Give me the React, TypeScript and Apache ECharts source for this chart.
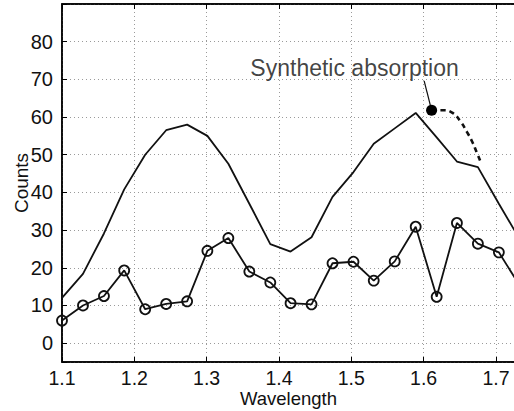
import React, { useEffect, useRef } from "react";
import * as echarts from "echarts";

// Wavelength sample positions
const wavelength = [
  1.1, 1.129, 1.158, 1.186, 1.215, 1.244, 1.273, 1.301, 1.33, 1.359, 1.388, 1.416,
  1.445, 1.474, 1.503, 1.531, 1.56, 1.589, 1.618, 1.646, 1.675, 1.704, 1.733,
];
// Observed counts (circle markers)
const observedCounts = [
  6.0, 10.0, 12.5, 19.3, 9.0, 10.4, 11.1, 24.5, 27.9, 19.0, 16.1, 10.6, 10.3, 21.2,
  21.6, 16.6, 21.7, 30.9, 12.3, 31.9, 26.4, 24.1, 15.2,
];
// Model counts (plain solid line)
const modelCounts = [
  12.0, 18.4, 29.1, 40.8, 50.0, 56.5, 58.0, 55.0, 47.6, 37.0, 26.3, 24.3, 28.1, 38.8,
  45.4, 52.9, 57.0, 61.1, 54.6, 48.2, 46.7, 37.0, 27.5,
];
// Synthetic absorption (dashed curve)
const absorptionX = [1.611, 1.627, 1.64, 1.651, 1.66, 1.667, 1.673, 1.679];
const absorptionY = [61.8, 61.8, 61.1, 58.8, 56.0, 53.5, 50.8, 48.0];
// Annotation
const annotationText = "Synthetic absorption";
const annotationTextPos = [1.5045, 73.0];
const annotationLine = [
  [1.6007, 69.6],
  [1.611, 61.8],
];
const annotationDot = [1.611, 61.8];
// Axes
const xMin = 1.1;
const xMax = 1.7263;
const xStep = 0.1;
const yMin = -5;
const yMax = 90;
const yLabelMin = 0;
const yLabelMax = 80;

const FONT = "'Liberation Sans', Arial, Helvetica, sans-serif";

export default function App() {
  const ref = useRef<HTMLDivElement>(null);

  useEffect(() => {
    document.body.style.margin = "0";
    if (!ref.current) return;
    const chart = echarts.init(ref.current, null, { renderer: "svg" });

    const zip = (xs: number[], ys: number[]) => xs.map((x, i) => [x, ys[i]]);
    const gridLine = { show: true, lineStyle: { color: "#9a9a9a", type: [1, 3], width: 1 } };

    chart.setOption({
      animation: false,
      backgroundColor: "#ffffff",
      textStyle: { fontFamily: FONT },
      grid: {
        show: true,
        left: 62,
        top: 4,
        width: 453,
        height: 358,
        containLabel: false,
        outerBoundsMode: "none",
        backgroundColor: "transparent",
        borderColor: "#000",
        borderWidth: 1.5,
      },
      xAxis: [
        {
          type: "value",
          position: "bottom",
          min: xMin,
          max: xMax,
          interval: xStep,
          name: "Wavelength",
          nameLocation: "middle",
          nameGap: 27,
          nameMoveOverlap: false,
          nameTextStyle: { fontSize: 18.5, color: "#111", fontFamily: FONT },
          axisLine: { show: true, onZero: false, lineStyle: { color: "#000", width: 1.5 } },
          axisTick: { show: true, inside: true, length: 5, lineStyle: { color: "#000", width: 1 } },
          axisLabel: {
            fontSize: 19.5,
            color: "#111",
            margin: 6,
            fontFamily: FONT,
            formatter: (v: number) => (v > 1.71 ? "" : v.toFixed(1)),
          },
          splitLine: gridLine,
        },
        {
          type: "value",
          position: "top",
          min: xMin,
          max: xMax,
          interval: xStep,
          axisLine: { show: true, onZero: false, lineStyle: { color: "#000", width: 1.5 } },
          axisTick: { show: true, inside: true, length: 5, lineStyle: { color: "#000", width: 1 } },
          axisLabel: { show: false },
          splitLine: { show: false },
        },
      ],
      yAxis: {
        type: "value",
        min: yMin,
        max: yMax,
        splitNumber: 10,
        name: "Counts",
        nameLocation: "middle",
        nameGap: 31,
        nameMoveOverlap: false,
        nameTextStyle: { fontSize: 19, color: "#111", fontFamily: FONT },
        axisLine: { show: true, onZero: false, lineStyle: { color: "#000", width: 1.5 } },
        axisTick: { show: true, inside: true, length: 5, lineStyle: { color: "#000", width: 1 } },
        axisLabel: {
          fontSize: 20,
          color: "#111",
          margin: 9,
          fontFamily: FONT,
          formatter: (v: number) => (v < yLabelMin || v > yLabelMax ? "" : String(v)),
        },
        splitLine: gridLine,
      },
      series: [
        {
          type: "line",
          data: zip(wavelength, modelCounts),
          symbol: "none",
          lineStyle: { color: "#111", width: 1.8 },
          clip: true,
          z: 3,
        },
        {
          type: "line",
          data: zip(wavelength, observedCounts),
          symbol: "circle",
          symbolSize: 10,
          itemStyle: { color: "rgba(0,0,0,0)", borderColor: "#111", borderWidth: 1.8 },
          lineStyle: { color: "#111", width: 1.8 },
          clip: true,
          z: 3,
        },
        {
          type: "line",
          data: zip(absorptionX, absorptionY),
          smooth: true,
          symbol: "none",
          lineStyle: { color: "#111", width: 2.6, type: [5, 4] },
          z: 4,
        },
        {
          type: "line",
          data: annotationLine,
          symbol: "none",
          lineStyle: { color: "#111", width: 1.2 },
          z: 4,
        },
        {
          type: "scatter",
          data: [annotationDot],
          symbol: "circle",
          symbolSize: 11,
          itemStyle: { color: "#000", opacity: 1 },
          z: 5,
        },
        {
          type: "scatter",
          data: [annotationTextPos],
          symbolSize: 1,
          itemStyle: { color: "rgba(0,0,0,0)" },
          label: {
            show: true,
            position: "inside",
            formatter: () => annotationText,
            fontSize: 23,
            color: "#111",
            fontFamily: FONT,
          },
          z: 5,
        },
      ],
    });

    return () => {
      chart.dispose();
    };
  }, []);

  return <div ref={ref} style={{ width: 514, height: 411 }} />;
}
